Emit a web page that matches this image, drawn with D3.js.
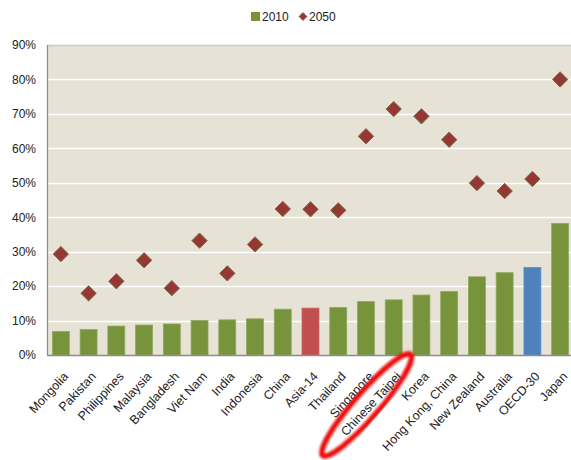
<!DOCTYPE html>
<html><head><meta charset="utf-8">
<script src="https://cdn.jsdelivr.net/npm/d3@7"></script>
<style>body{margin:0;background:#fff}svg{display:block}</style>
</head><body>
<svg id="c" width="571" height="460"></svg>
<script>
const categories = ["Mongolia","Pakistan","Philippines","Malaysia","Bangladesh","Viet Nam","India","Indonesia","China","Asia-14","Thailand","Singapore","Chinese Taipei","Korea","Hong Kong, China","New Zealand","Australia","OECD-30","Japan"];
const values2010 = [6.8,7.4,8.4,8.7,9.0,10.0,10.2,10.5,13.3,13.6,13.8,15.5,16.0,17.4,18.4,22.7,23.9,25.4,38.2];
const values2050 = [29.3,17.9,21.4,27.5,19.4,33.2,23.7,32.1,42.4,42.3,42.0,63.5,71.4,69.3,62.5,49.9,47.6,51.1,80.0];
const barColors = {"Asia-14":"#c0504d","OECD-30":"#4f81bd"};
const yTicks = [0,10,20,30,40,50,60,70,80,90];
const seriesNames = ["2010","2050"];
const highlighted = "Chinese Taipei";

const svg = d3.select("#c");
const font = "Liberation Sans, Arial, sans-serif";
const L = 47, R = 574, T = 45, B = 355;
const x = d3.scaleBand().domain(categories).range([L, R]).paddingInner(0.39).paddingOuter(0.195);
const y = d3.scaleLinear().domain([0, 90]).range([B, T]);

svg.append("rect").attr("x", L).attr("y", T).attr("width", R - L).attr("height", B - T).attr("fill", "#e6e2d5");
svg.append("line").attr("x1", L).attr("x2", R).attr("y1", T + 0.5).attr("y2", T + 0.5).attr("stroke", "#c9c9c9").attr("stroke-width", 1.5);

const yAxis = d3.axisLeft(y).tickValues(yTicks).tickFormat(d => d + "%").tickSize(0).tickPadding(11);
const gy = svg.append("g").attr("transform", `translate(${L},0)`).call(yAxis);
gy.select(".domain").remove();
gy.selectAll("text").attr("font-family", font).attr("font-size", 12).attr("fill", "#222");

svg.append("g").selectAll("line").data(yTicks.filter(d => d > 0 && d < 90)).join("line")
  .attr("x1", L).attr("x2", R).attr("y1", d => Math.round(y(d)) + 0.5).attr("y2", d => Math.round(y(d)) + 0.5)
  .attr("stroke", "#ffffff").attr("stroke-width", 1.5);

svg.append("g").selectAll("rect").data(categories).join("rect")
  .attr("x", d => x(d)).attr("width", x.bandwidth())
  .attr("y", (d, i) => y(values2010[i])).attr("height", (d, i) => B - y(values2010[i]))
  .attr("fill", d => barColors[d] || "#77933c")
  .attr("stroke", d => d in barColors ? d3.color(barColors[d]).brighter(0.3) : "#8fa85a").attr("stroke-width", 0.8);

// axes lines
svg.append("line").attr("x1", L + 0.5).attr("x2", L + 0.5).attr("y1", T).attr("y2", B).attr("stroke", "#8c8c8c").attr("stroke-width", 1.2);
svg.append("line").attr("x1", L).attr("x2", R).attr("y1", B + 0.5).attr("y2", B + 0.5).attr("stroke", "#8c8c8c").attr("stroke-width", 1.5);

const diamond = d3.symbol().type(d3.symbolDiamond2).size(150);
svg.append("g").selectAll("path").data(categories).join("path")
  .attr("d", diamond)
  .attr("transform", (d, i) => `translate(${x(d) + x.bandwidth() / 2},${y(values2050[i])})`)
  .attr("fill", "#953735").attr("stroke", "#7d6d3c").attr("stroke-width", 1);

// x labels
svg.append("g").selectAll("text").data(categories).join("text")
  .attr("transform", d => `translate(${x(d) + x.bandwidth() / 2 + 5},${B + 19}) rotate(-47)`)
  .attr("text-anchor", "end").attr("dy", "0.35em")
  .attr("font-family", font).attr("font-size", 12.5).attr("fill", "#222")
  .text(d => d);

// legend
const lg = svg.append("g");
lg.append("rect").attr("x", 251).attr("y", 12).attr("width", 9).attr("height", 9).attr("fill", "#77933c");
lg.append("text").attr("x", 262).attr("y", 21).attr("font-family", font).attr("font-size", 12).attr("fill", "#222").text(seriesNames[0]);
lg.append("path").attr("d", d3.symbol().type(d3.symbolDiamond2).size(45)).attr("transform", "translate(303,16.5)")
  .attr("fill", "#953735").attr("stroke", "#b0a070").attr("stroke-width", 0.8);
lg.append("text").attr("x", 309).attr("y", 21).attr("font-family", font).attr("font-size", 12).attr("fill", "#222").text(seriesNames[1]);

// red highlight ellipse
const defs = svg.append("defs");
defs.append("filter").attr("id", "blur").append("feGaussianBlur").attr("stdDeviation", 1.2);
const hx = x(highlighted) + x.bandwidth() / 2;
svg.append("ellipse").attr("cx", 0).attr("cy", 0).attr("rx", 67).attr("ry", 12.5)
  .attr("transform", `translate(${hx - 27},${B + 50}) rotate(-49)`)
  .attr("fill", "none").attr("stroke", "#ee1111").attr("stroke-width", 5.5).attr("filter", "url(#blur)");
</script>
</body></html>
